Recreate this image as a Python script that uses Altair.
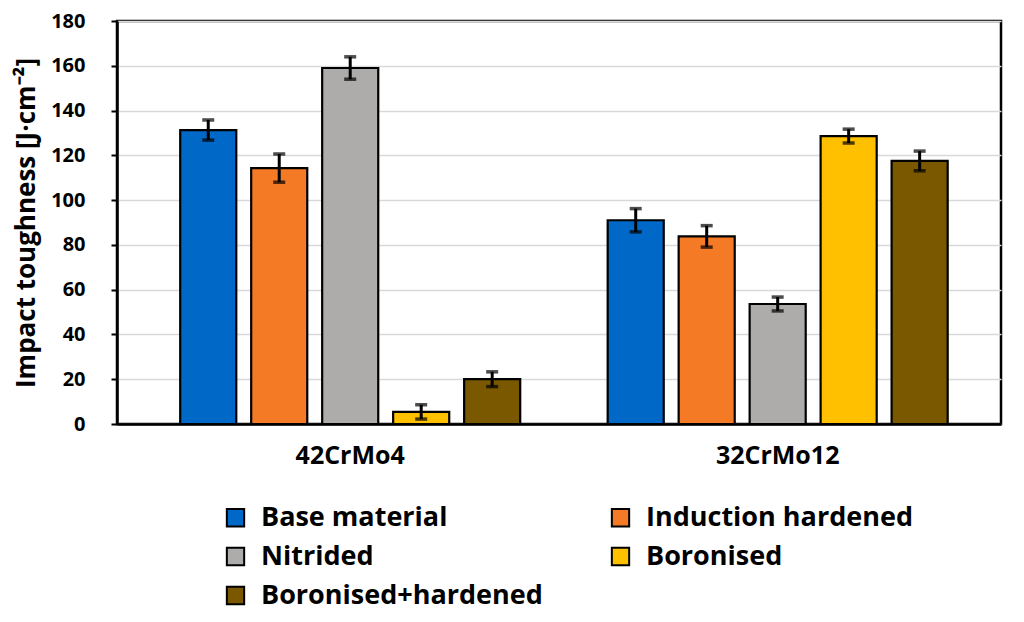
import altair as alt
import pandas as pd

groups = ["42CrMo4", "32CrMo12"]
treatments = ["Base material", "Induction hardened", "Nitrided", "Boronised", "Boronised+hardened"]
colors = ["#0068C6", "#F47A25", "#AEABAB", "#FFC000", "#7A5800"]

means_42 = [131.3, 114.3, 159.0, 5.4, 20.0]
err_42 = [4.5, 6.3, 5.0, 3.2, 3.3]
means_32 = [91.0, 83.8, 53.6, 128.6, 117.5]
err_32 = [5.2, 4.8, 3.1, 3.1, 4.4]

rows = []
for g, means, errs in [(groups[0], means_42, err_42), (groups[1], means_32, err_32)]:
    for t, m, e in zip(treatments, means, errs):
        rows.append({"group": g, "treatment": t, "value": m, "lo": m - e, "hi": m + e})
df = pd.DataFrame(rows)

FONT = "Open Sans"

x_enc = alt.X("group:N", sort=groups,
              scale=alt.Scale(paddingInner=0, paddingOuter=0.034, align=0.67),
              axis=alt.Axis(title=None, labelAngle=0, ticks=False, labelPadding=19,
                            labelFont=FONT, labelFontSize=25, labelFontWeight="bold",
                            labelColor="black", domainColor="black", domainWidth=2.5))
xoff = alt.XOffset("treatment:N", sort=treatments,
                   scale=alt.Scale(paddingInner=0.21, paddingOuter=0.616))

y_axis = alt.Axis(
    values=list(range(0, 181, 10)),
    labelExpr="datum.value % 20 == 0 ? datum.label : ''",
    gridOpacity=alt.condition("datum.value % 20 == 0", alt.value(1), alt.value(0)),
    gridColor="#d9d9d9", gridWidth=1.5,
    title="Impact toughness [J·cm⁻²]",
    titleFont=FONT, titleFontSize=26, titleFontWeight="bold", titleColor="black",
    titlePadding=11,
    labelFont=FONT, labelFontSize=20, labelFontWeight="bold", labelColor="black",
    labelPadding=26, tickSize=6, tickColor="black", tickWidth=2,
    domainColor="black", domainWidth=2.5,
)
y_scale = alt.Scale(domain=[0, 180], nice=False)

base = alt.Chart(df).encode(x=x_enc, xOffset=xoff)

bars = base.mark_bar(stroke="black", strokeWidth=2.2).encode(
    y=alt.Y("value:Q", scale=y_scale, axis=y_axis),
    color=alt.Color("treatment:N", sort=treatments,
                    scale=alt.Scale(domain=treatments, range=colors),
                    legend=alt.Legend(title=None, orient="none", legendX=105, legendY=483,
                                      columns=2, direction="horizontal",
                                      symbolType="square", symbolSize=300,
                                      symbolStrokeColor="black", symbolStrokeWidth=2,
                                      symbolOpacity=1,
                                      labelFont=FONT, labelFontSize=27, labelFontWeight="bold",
                                      labelColor="black", labelLimit=600, labelOffset=12,
                                      rowPadding=11, columnPadding=64)),
)

rules = base.mark_rule(color="black", strokeWidth=3).encode(
    y=alt.Y("lo:Q", scale=y_scale), y2="hi:Q")
cap_hi = base.mark_tick(color="black", size=12, thickness=3.5).encode(y=alt.Y("hi:Q", scale=y_scale))
cap_lo = base.mark_tick(color="black", size=12, thickness=3.5).encode(y=alt.Y("lo:Q", scale=y_scale))

chart = alt.layer(bars, rules, cap_hi, cap_lo).properties(
    width=884, height=403, padding={"left": 5, "top": 3, "right": 5, "bottom": 5}
).configure_view(stroke="black", strokeWidth=2.5)

chart.save("out.html", embed_options={"renderer": "svg", "actions": False})
